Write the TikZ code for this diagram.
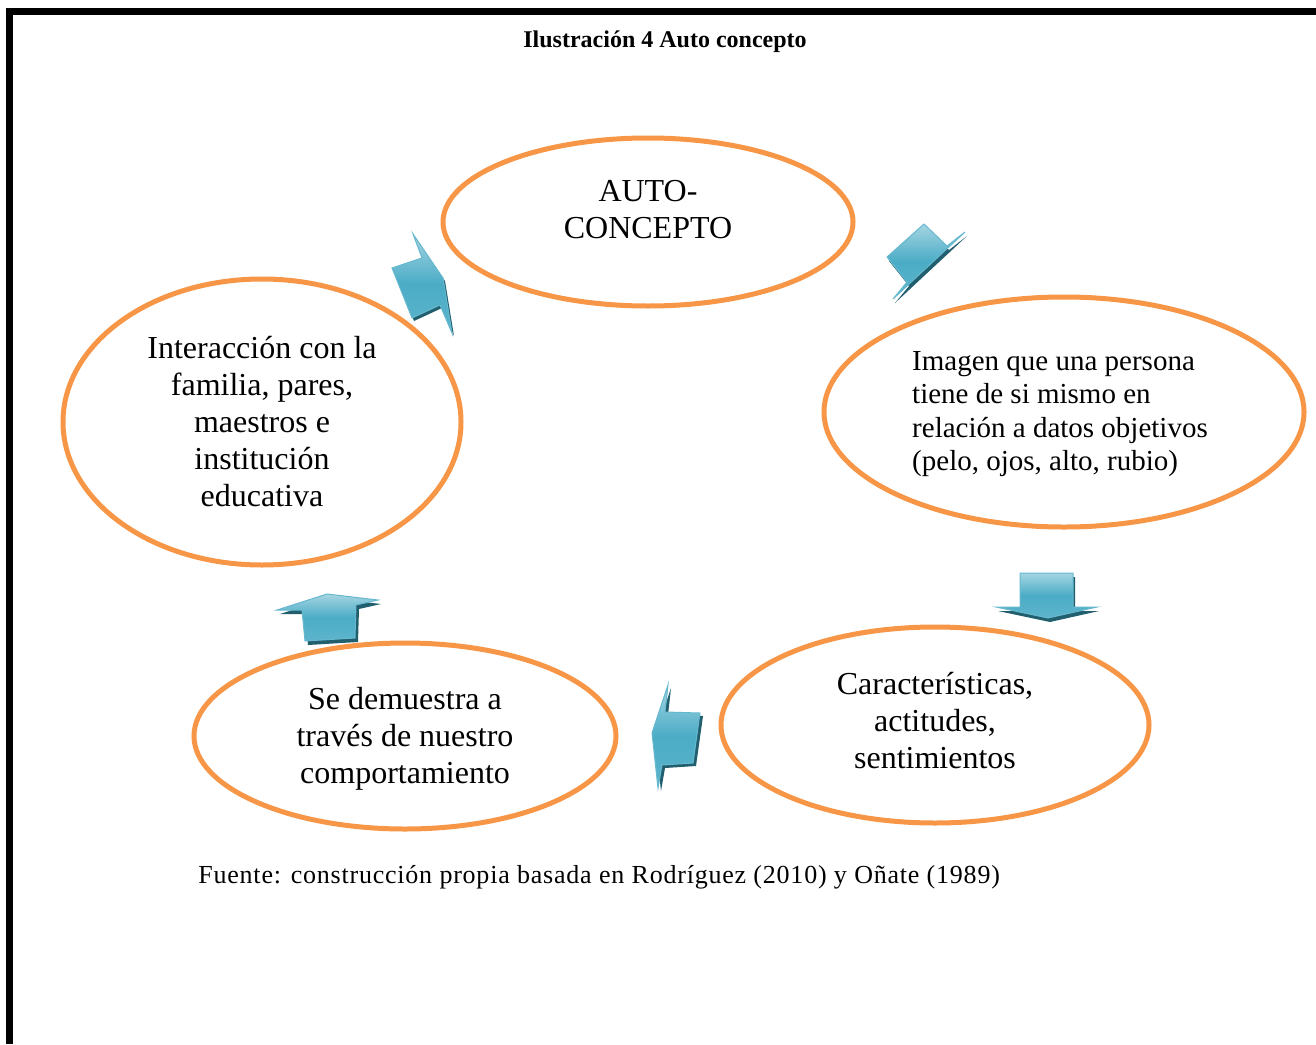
\documentclass[tikz,border=0pt]{standalone}
\usepackage{fontspec}
\setmainfont{Liberation Serif}
\usetikzlibrary{shapes.geometric}

\definecolor{naranja}{HTML}{F79646}
\definecolor{turquesa}{HTML}{4BACC6}
\definecolor{turquesaclaro}{HTML}{A5D5E2}
\definecolor{turquesaosc}{HTML}{215E6E}

\tikzset{
  burbuja/.style={ellipse, draw=naranja, line width=2.5pt, inner sep=0pt, align=center,
    font=\fontsize{16}{18.5}\selectfont},
  texto/.style={align=center, inner sep=0pt, font=\fontsize{16}{18.5}\selectfont},
  flecha/.style={draw=turquesa!85!white, line width=0.5pt, line join=miter,
    top color=turquesaclaro, bottom color=turquesa!90!white, middle color=turquesa},
  sombra/.style={fill=turquesaosc},
}

\begin{document}
\begin{tikzpicture}[x=0.5pt, y=-0.5pt]

  \useasboundingbox (0,0) rectangle (1316,1044);

  % marco
  \draw[line width=3.5pt, line join=miter] (9.5,1044) -- (9.5,11.5) -- (1316,11.5);

  % titulo
  \node[anchor=base, font=\fontsize{12}{14}\selectfont\bfseries] (titulo) at (665,47) {Ilustración 4 Auto concepto};

  % elipses
  \node[burbuja, minimum width=205pt, minimum height=84pt] (auto) at (648,222) {};
  \node[texto] (autotxt) at ([yshift=6pt]auto.center) {AUTO-\\CONCEPTO};
  \node[burbuja, minimum width=240pt, minimum height=115pt] (imagen) at (1064,412) {};
  \node[texto, align=left, font=\fontsize{14.5}{16.8}\selectfont] (imagentxt) at ([xshift=-2pt, yshift=-1pt]imagen.center)
    {Imagen que una persona\\tiene de si mismo en\\relación a datos objetivos\\(pelo, ojos, alto, rubio)};
  \node[burbuja, minimum width=214pt, minimum height=98pt] (caract) at (935,725) {};
  \node[texto] (caracttxt) at ([yshift=2pt]caract.center) {Características,\\actitudes,\\sentimientos};
  \node[burbuja, minimum width=211pt, minimum height=93pt] (demuestra) at (405,736) {};
  \node[texto] (demuestratxt) at ([yshift=-1.5pt]demuestra.center) {Se demuestra a\\través de nuestro\\comportamiento};
  \node[burbuja, minimum width=199pt, minimum height=143pt] (interac) at (262,422)
    {Interacción con la\\familia, pares,\\maestros e\\institución\\educativa};

  % flechas
  \def\flechaA{(924,224) -- (947,246) -- (965,232) -- (893,299) -- (907,282) -- (887,257) -- cycle}
  \def\flechaB{(1020,573) -- (1073,573) -- (1073,607) -- (1097,607) -- (1048,618) -- (996,607) -- (1020,607) -- cycle}
  \def\flechaC{(668,685) -- (665,712) -- (700,713) -- (693,763) -- (662,765) -- (658,788) -- (652,733) -- cycle}
  \def\flechaD{(277,610) -- (327,594) -- (378,600) -- (356,605) -- (355,638) -- (305,641) -- (302,610) -- cycle}
  \def\flechaE{(413,234) -- (422,258) -- (392,268) -- (412,318) -- (440,305) -- (452,333) -- (443,278) -- cycle}

  \fill[sombra, shift={(2,4)}] \flechaA;
  \draw[flecha] \flechaA;
  \fill[sombra, shift={(2,4)}] \flechaB;
  \draw[flecha] \flechaB;
  \fill[sombra, shift={(3,3)}] \flechaC;
  \draw[flecha] \flechaC;
  \fill[sombra, shift={(3,4)}] \flechaD;
  \draw[flecha] \flechaD;
  \fill[sombra, shift={(2,3)}] \flechaE;
  \draw[flecha] \flechaE;

  % fuente
  \node[anchor=base west, inner sep=0pt, font=\fontsize{13}{15}\selectfont\addfontfeature{LetterSpace=3}] (fuente) at (198,883)
    {Fuente: construcción propia basada en Rodríguez (2010) y Oñate (1989)};

\end{tikzpicture}
\end{document}
